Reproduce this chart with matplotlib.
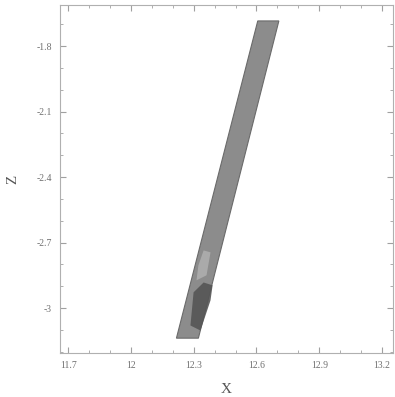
import matplotlib.pyplot as plt
from matplotlib.patches import Polygon
from matplotlib.ticker import MultipleLocator

# outline of the strip (x, z)
strip_x = [12.217, 12.322, 12.707, 12.606]
strip_z = [-3.138, -3.138, -1.685, -1.685]

# darker patch near the bottom
dark_x = [12.284, 12.332, 12.380, 12.390, 12.347, 12.299]
dark_z = [-3.080, -3.103, -2.965, -2.896, -2.883, -2.928]

# lighter patch above it
light_x = [12.313, 12.361, 12.380, 12.347, 12.322]
light_z = [-2.873, -2.850, -2.745, -2.736, -2.805]

xticks = [11.7, 12.0, 12.3, 12.6, 12.9, 13.2]
xtick_labels = ['11.7', '12', '12.3', '12.6', '12.9', '13.2']
zticks = [-1.8, -2.1, -2.4, -2.7, -3.0]
ztick_labels = ['-1.8', '-2.1', '-2.4', '-2.7', '-3']

plt.rcParams['font.family'] = ['Liberation Serif', 'DejaVu Serif']

fig = plt.figure(figsize=(3.95, 3.97), dpi=100)
ax = fig.add_axes([60 / 395, 1 - 353 / 397, 333 / 395, 348 / 397])

ax.add_patch(Polygon(list(zip(strip_x, strip_z)), closed=True,
                     facecolor='#8c8c8c', edgecolor='#6a6a6a', linewidth=0.8))
ax.add_patch(Polygon(list(zip(light_x, light_z)), closed=True,
                     facecolor='#b0b0b0', edgecolor='none', alpha=0.85))
ax.add_patch(Polygon(list(zip(dark_x, dark_z)), closed=True,
                     facecolor='#555555', edgecolor='none', alpha=0.9))

ax.set_xlim(11.66, 13.253)
ax.set_ylim(-3.206, -1.612)

ax.set_xticks(xticks)
ax.set_xticklabels(xtick_labels)
ax.set_yticks(zticks)
ax.set_yticklabels(ztick_labels)
ax.xaxis.set_minor_locator(MultipleLocator(0.1))
ax.yaxis.set_minor_locator(MultipleLocator(0.1))

ax.tick_params(which='both', direction='in', top=True, right=True,
               colors='#a0a0a0', labelcolor='#707070', labelsize=7)
ax.tick_params(which='major', length=4, pad=6)
ax.tick_params(which='minor', length=2)
for s in ax.spines.values():
    s.set_color('#b0b0b0')

ax.set_xlabel('X', fontsize=11, color='#555555', labelpad=9)
ax.set_ylabel('Z', fontsize=11, color='#555555', labelpad=12)

fig.savefig('out.png', dpi=100)
